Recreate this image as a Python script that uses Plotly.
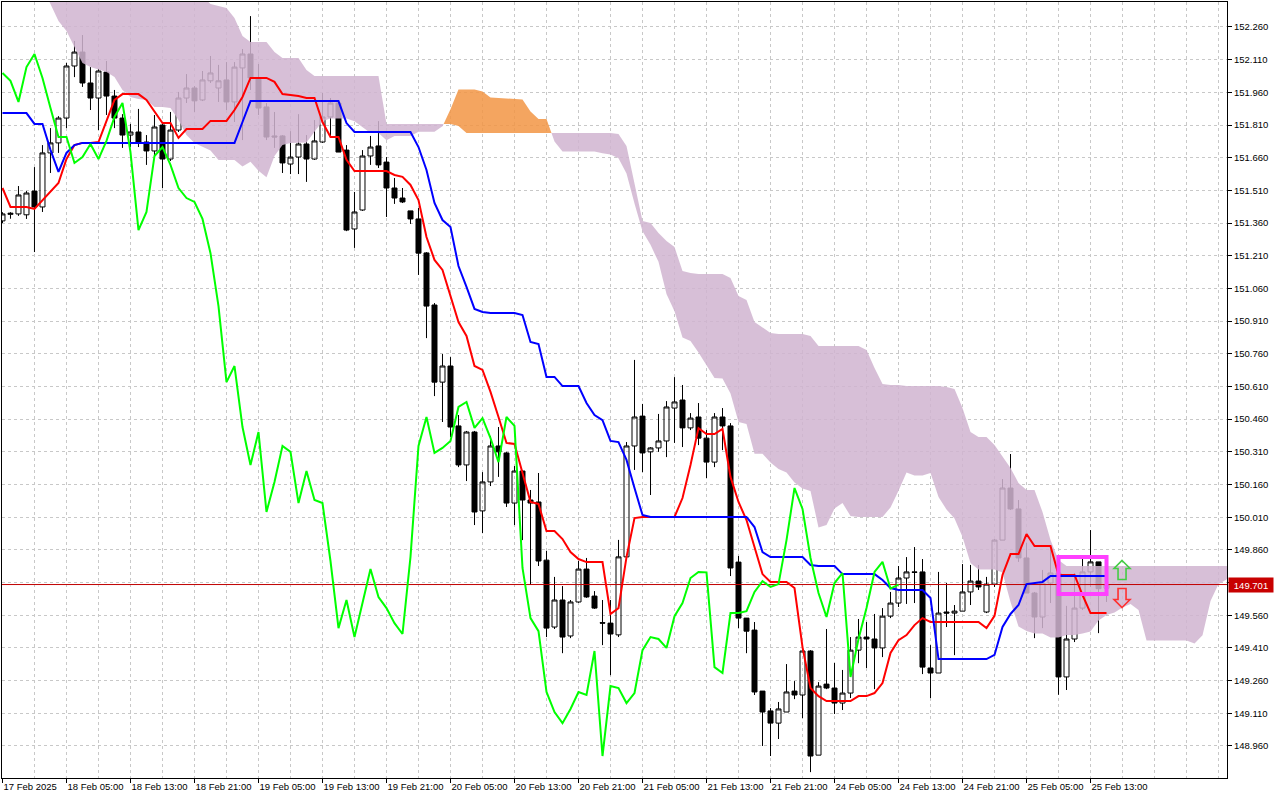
import plotly.graph_objects as go

# ---------------- data (hourly bars, index 0 = 17 Feb 21:00) ----------------
open_ = [151.370, 151.400, 151.402, 151.398, 151.507, 151.434, 151.682, 151.728, 151.842, 152.081,
         152.145, 152.003, 151.934, 152.053, 151.943, 151.842, 151.764, 151.778, 151.732, 151.691,
         151.810, 151.654, 151.787, 151.934, 151.980, 151.925, 152.013, 151.980, 152.017, 151.916,
         152.072, 152.136, 152.021, 151.893, 151.760, 151.760, 151.631, 151.663, 151.723, 151.654,
         151.732, 151.847, 151.911, 151.695, 151.333, 151.420, 151.668, 151.714, 151.640, 151.521,
         151.475, 151.416, 151.379, 151.223, 150.984, 150.630, 150.704, 150.429, 150.250, 150.401,
         150.039, 150.172, 150.337, 150.305, 150.075, 150.222, 150.089, 150.080, 149.813, 149.506,
         149.630, 149.465, 149.621, 149.772, 149.648, 149.526, 149.524, 149.470, 149.828, 150.337,
         150.474, 150.310, 150.328, 150.360, 150.511, 150.548, 150.420, 150.470, 150.373, 150.263,
         150.470, 150.429, 149.804, 149.547, 149.492, 149.212, 149.121, 149.065, 149.116, 149.212,
         149.194, 149.396, 148.918, 149.244, 149.226, 149.157, 149.203, 149.400, 149.460, 149.451,
         149.410, 149.556, 149.616, 149.731, 149.759, 149.759, 149.318, 149.295, 149.575, 149.570,
         149.579, 149.667, 149.717, 149.575, 149.703, 149.905, 150.144, 150.048, 149.823, 149.662,
         149.552, 149.708, 149.754, 149.277, 149.451, 149.593, 149.759, 149.805, 149.684]

high = [151.410, 151.410, 151.530, 151.507, 151.617, 151.718, 151.796, 151.851, 152.095, 152.196,
        152.223, 152.076, 152.067, 152.104, 151.971, 151.860, 151.815, 151.884, 151.764, 151.856,
        151.819, 151.870, 151.962, 152.044, 151.989, 152.058, 152.127, 152.086, 152.099, 152.099,
        152.159, 152.310, 152.090, 151.911, 151.870, 151.764, 151.782, 151.860, 151.764, 151.833,
        151.957, 151.934, 151.925, 151.718, 151.503, 151.695, 151.760, 151.828, 151.663, 151.567,
        151.521, 151.416, 151.429, 151.227, 150.993, 150.759, 150.745, 150.479, 150.406, 150.406,
        150.217, 150.383, 150.424, 150.310, 150.245, 150.227, 150.135, 150.213, 149.855, 149.736,
        149.694, 149.630, 149.809, 149.823, 149.671, 149.630, 149.630, 149.906, 150.355, 150.732,
        150.530, 150.332, 150.484, 150.543, 150.653, 150.617, 150.488, 150.534, 150.410, 150.488,
        150.511, 150.442, 149.832, 149.547, 149.529, 149.212, 149.134, 149.162, 149.336, 149.258,
        149.400, 149.400, 149.253, 149.497, 149.341, 149.309, 149.460, 149.543, 149.529, 149.566,
        149.593, 149.667, 149.786, 149.827, 149.873, 149.818, 149.423, 149.759, 149.708, 149.607,
        149.795, 149.791, 149.791, 149.736, 149.910, 150.185, 150.300, 150.089, 149.892, 149.667,
        149.768, 149.873, 149.760, 149.603, 149.754, 149.823, 149.951, 149.805, 149.712]

low = [151.360, 151.380, 151.393, 151.379, 151.227, 151.411, 151.590, 151.682, 151.796, 152.030,
       151.985, 151.879, 151.787, 151.856, 151.796, 151.705, 151.709, 151.709, 151.627, 151.672,
       151.521, 151.645, 151.778, 151.911, 151.870, 151.920, 152.003, 151.916, 151.879, 151.824,
       151.741, 151.971, 151.856, 151.741, 151.705, 151.590, 151.585, 151.585, 151.549, 151.650,
       151.728, 151.755, 151.686, 151.323, 151.246, 151.416, 151.627, 151.613, 151.388, 151.448,
       151.452, 151.356, 151.122, 150.832, 150.566, 150.447, 150.378, 150.240, 150.176, 149.974,
       149.937, 150.153, 150.195, 150.057, 149.974, 149.905, 149.699, 149.786, 149.460, 149.497,
       149.386, 149.455, 149.617, 149.640, 149.589, 149.423, 149.285, 149.460, 149.823, 150.227,
       150.217, 150.112, 150.310, 150.286, 150.351, 150.332, 150.410, 150.341, 150.190, 150.240,
       150.318, 149.740, 149.501, 149.386, 149.194, 148.960, 148.914, 148.992, 149.116, 149.175,
       149.088, 148.840, 148.918, 149.221, 149.107, 149.125, 149.180, 149.340, 149.318, 149.221,
       149.368, 149.547, 149.598, 149.612, 149.616, 149.290, 149.180, 149.295, 149.506, 149.377,
       149.579, 149.607, 149.676, 149.570, 149.690, 149.905, 150.043, 149.805, 149.662, 149.455,
       149.501, 149.616, 149.195, 149.217, 149.437, 149.584, 149.690, 149.478, 149.621]

close = [151.402, 151.405, 151.489, 151.498, 151.434, 151.682, 151.728, 151.842, 152.081, 152.145,
         152.003, 151.934, 152.058, 151.943, 151.842, 151.764, 151.778, 151.732, 151.691, 151.801,
         151.654, 151.787, 151.934, 151.980, 151.921, 152.017, 152.049, 152.013, 151.916, 152.076,
         152.136, 152.026, 151.888, 151.755, 151.755, 151.636, 151.663, 151.723, 151.654, 151.737,
         151.847, 151.911, 151.686, 151.328, 151.411, 151.668, 151.709, 151.627, 151.521, 151.475,
         151.457, 151.379, 151.222, 150.979, 150.630, 150.704, 150.424, 150.250, 150.401, 150.034,
         150.172, 150.337, 150.310, 150.075, 150.222, 150.089, 150.075, 149.809, 149.501, 149.630,
         149.460, 149.621, 149.772, 149.644, 149.593, 149.524, 149.474, 149.828, 150.337, 150.470,
         150.305, 150.328, 150.360, 150.516, 150.539, 150.420, 150.465, 150.373, 150.263, 150.470,
         150.429, 149.777, 149.547, 149.487, 149.208, 149.116, 149.065, 149.130, 149.208, 149.194,
         149.396, 148.914, 149.235, 149.226, 149.157, 149.203, 149.400, 149.460, 149.451, 149.410,
         149.556, 149.616, 149.731, 149.759, 149.757, 149.322, 149.295, 149.570, 149.570, 149.579,
         149.667, 149.717, 149.690, 149.703, 149.905, 150.144, 150.048, 149.823, 149.662, 149.552,
         149.708, 149.754, 149.277, 149.451, 149.593, 149.759, 149.805, 149.682, 149.701]

tenkan = [151.521, 151.434, 151.434, 151.434, 151.425, 151.466, 151.503, 151.544, 151.654, 151.718,
          151.728, 151.728, 151.732, 151.829, 151.925, 151.952, 151.952, 151.952, 151.925, 151.870,
          151.819, 151.819, 151.751, 151.792, 151.792, 151.792, 151.829, 151.829, 151.829, 151.879,
          151.939, 152.026, 152.026, 152.026, 152.008, 151.952, 151.948, 151.943, 151.934, 151.934,
          151.824, 151.755, 151.755, 151.650, 151.599, 151.599, 151.599, 151.599, 151.599, 151.581,
          151.572, 151.535, 151.466, 151.296, 151.191, 151.145, 151.021, 150.906, 150.842, 150.704,
          150.686, 150.585, 150.470, 150.351, 150.346, 150.217, 150.080, 150.071, 149.947, 149.947,
          149.910, 149.850, 149.818, 149.804, 149.804, 149.804, 149.566, 149.593, 149.827, 150.006,
          150.011, 150.011, 150.011, 150.011, 150.011, 150.098, 150.250, 150.419, 150.392, 150.392,
          150.415, 150.195, 150.080, 149.997, 149.873, 149.749, 149.713, 149.713, 149.713, 149.685,
          149.414, 149.226, 149.189, 149.166, 149.166, 149.166, 149.166, 149.189, 149.189, 149.203,
          149.249, 149.387, 149.446, 149.469, 149.515, 149.547, 149.529, 149.529, 149.529, 149.529,
          149.529, 149.529, 149.529, 149.501, 149.557, 149.745, 149.841, 149.841, 149.933, 149.878,
          149.878, 149.878, 149.745, 149.745, 149.745, 149.653, 149.570, 149.570, 149.570]

kijun = [151.865, 151.865, 151.865, 151.865, 151.815, 151.815, 151.696, 151.595, 151.682, 151.718,
         151.728, 151.728, 151.728, 151.728, 151.728, 151.728, 151.728, 151.728, 151.728, 151.728,
         151.728, 151.728, 151.728, 151.728, 151.728, 151.728, 151.728, 151.728, 151.728, 151.728,
         151.824, 151.920, 151.920, 151.920, 151.920, 151.920, 151.920, 151.920, 151.920, 151.920,
         151.920, 151.920, 151.920, 151.819, 151.778, 151.778, 151.778, 151.778, 151.778, 151.778,
         151.778, 151.778, 151.709, 151.604, 151.452, 151.374, 151.342, 151.163, 151.067, 150.966,
         150.952, 150.947, 150.947, 150.947, 150.947, 150.938, 150.814, 150.805, 150.654, 150.654,
         150.612, 150.612, 150.612, 150.534, 150.479, 150.456, 150.360, 150.355, 150.273, 150.144,
         150.020, 150.011, 150.011, 150.011, 150.011, 150.011, 150.011, 150.011, 150.011, 150.011,
         150.011, 150.011, 150.011, 150.011, 149.965, 149.850, 149.827, 149.827, 149.827, 149.827,
         149.827, 149.791, 149.786, 149.786, 149.786, 149.749, 149.749, 149.749, 149.749, 149.749,
         149.722, 149.685, 149.676, 149.676, 149.676, 149.676, 149.639, 149.359, 149.359, 149.359,
         149.359, 149.359, 149.359, 149.359, 149.378, 149.506, 149.566, 149.607, 149.703, 149.708,
         149.713, 149.740, 149.740, 149.740, 149.740, 149.740, 149.740, 149.740, 149.740]

# Senkou span A / B as drawn (already shifted 26 bars forward), index 0..154
span_a = [152.440, 152.440, 152.440, 152.440, 152.440, 152.440, 152.366, 152.288, 152.242, 152.168,
          152.095, 152.076, 152.063, 152.053, 152.031, 151.971, 151.939, 151.930, 151.925, 151.893,
          151.893, 151.888, 151.833, 151.764, 151.728, 151.709, 151.693, 151.650, 151.650, 151.650,
          151.620, 151.641, 151.600, 151.570, 151.668, 151.718, 151.728, 151.728, 151.730, 151.779,
          151.827, 151.840, 151.840, 151.840, 151.827, 151.799, 151.774, 151.774, 151.740, 151.760,
          151.760, 151.760, 151.779, 151.779, 151.779, 151.804, 151.882, 151.973, 151.973, 151.973,
          151.964, 151.936, 151.934, 151.932, 151.927, 151.927, 151.872, 151.838, 151.838, 151.735,
          151.689, 151.689, 151.689, 151.689, 151.689, 151.680, 151.675, 151.657, 151.588, 151.450,
          151.322, 151.260, 151.182, 151.035, 150.955, 150.835, 150.819, 150.766, 150.709, 150.649,
          150.647, 150.578, 150.447, 150.438, 150.301, 150.301, 150.261, 150.231, 150.215, 150.169,
          150.142, 150.130, 149.963, 149.974, 150.050, 150.075, 150.016, 150.011, 150.011, 150.011,
          150.011, 150.055, 150.131, 150.215, 150.202, 150.202, 150.213, 150.103, 150.046, 150.004,
          149.919, 149.800, 149.770, 149.770, 149.770, 149.756, 149.621, 149.509, 149.488, 149.476,
          149.476, 149.458, 149.458, 149.469, 149.469, 149.476, 149.486, 149.536, 149.561, 149.573,
          149.596, 149.612, 149.584, 149.444, 149.444, 149.444, 149.444, 149.444, 149.444, 149.430,
          149.468, 149.626, 149.704, 149.724, 149.818]

span_b = [152.460, 152.460, 152.460, 152.460, 152.460, 152.460, 152.460, 152.460, 152.460, 152.460,
          152.460, 152.460, 152.460, 152.460, 152.460, 152.460, 152.460, 152.460, 152.460, 152.460,
          152.460, 152.460, 152.460, 152.460, 152.460, 152.400, 152.366, 152.356, 152.347, 152.301,
          152.219, 152.191, 152.191, 152.191, 152.145, 152.118, 152.118, 152.118, 152.063, 152.035,
          152.035, 152.035, 152.035, 152.035, 152.035, 152.035, 152.035, 152.035, 151.815, 151.815,
          151.815, 151.815, 151.815, 151.815, 151.815, 151.815, 151.815, 151.806, 151.774, 151.774,
          151.774, 151.774, 151.774, 151.774, 151.774, 151.774, 151.774, 151.774, 151.774, 151.774,
          151.774, 151.774, 151.774, 151.774, 151.774, 151.774, 151.774, 151.769, 151.714, 151.535,
          151.370, 151.360, 151.315, 151.278, 151.250, 151.140, 151.131, 151.126, 151.126, 151.126,
          151.126, 151.108, 151.025, 151.007, 150.906, 150.883, 150.856, 150.851, 150.851, 150.851,
          150.851, 150.842, 150.796, 150.796, 150.796, 150.796, 150.796, 150.796, 150.778, 150.695,
          150.622, 150.617, 150.617, 150.612, 150.612, 150.612, 150.612, 150.612, 150.608, 150.599,
          150.511, 150.401, 150.378, 150.378, 150.341, 150.286, 150.236, 150.167, 150.135, 150.135,
          150.034, 149.906, 149.814, 149.786, 149.786, 149.786, 149.786, 149.786, 149.786, 149.786,
          149.786, 149.786, 149.786, 149.786, 149.786, 149.786, 149.786, 149.786, 149.786, 149.786,
          149.786, 149.786, 149.786, 149.786, 149.786]

tick_bars = [0, 8, 16, 24, 32, 40, 48, 56, 64, 72, 80, 88, 96, 104, 112, 120, 128, 136]
tick_labels = ["17 Feb 2025", "18 Feb 05:00", "18 Feb 13:00", "18 Feb 21:00", "19 Feb 05:00",
               "19 Feb 13:00", "19 Feb 21:00", "20 Feb 05:00", "20 Feb 13:00", "20 Feb 21:00",
               "21 Feb 05:00", "21 Feb 13:00", "21 Feb 21:00", "24 Feb 05:00", "24 Feb 13:00",
               "24 Feb 21:00", "25 Feb 05:00", "25 Feb 13:00"]
price_ticks = [148.960, 149.110, 149.260, 149.410, 149.560, 149.710, 149.860, 150.010, 150.160,
               150.310, 150.460, 150.610, 150.760, 150.910, 151.060, 151.210, 151.360, 151.510,
               151.660, 151.810, 151.960, 152.110, 152.260]
last_price = 149.701
box_bars = [132, 138]
box_prices = [149.658, 149.827]
signal_bar = 139.94
signal_up_price = 149.768
signal_down_price = 149.639

# ---------------- styling ----------------
FONT = "Liberation Sans, Arial, sans-serif"
GRID = "#c8c8c8"
DASH = "3px,3px"
KUMO_DOWN = "rgba(209,180,209,0.86)"
KUMO_UP = "rgba(242,150,70,0.86)"
X_RANGE = [-0.06, 153.06]
Y_RANGE = [148.8131, 152.3747]
# hollow block-arrow outlines, in pixels around the anchor point (y up)
UP_ARROW = "M 0 9.5 L 8 1.5 L 4 1.5 L 4 -9.5 L -4 -9.5 L -4 1.5 L -8 1.5 Z"
DOWN_ARROW = "M 0 -9.5 L 8 -1.5 L 4 -1.5 L 4 9.5 L -4 9.5 L -4 -1.5 L -8 -1.5 Z"

bars = list(range(len(close)))
cloud_x = list(range(len(span_a)))
chikou_x = bars[:len(close) - 26]
chikou_y = close[26:]
# the price-axis label hidden behind the current-price tag
price_text = ["" if abs(p - last_price) < 0.03 else f"{p:.3f}" for p in price_ticks]

fig = go.Figure()


# split the kumo into bullish / bearish polygons at the crossings of span A and B
def kumo_segments(xs, a, b):
    segs = []
    sign = a[0] > b[0]
    sx, sa, sb = [xs[0]], [a[0]], [b[0]]
    for i in range(1, len(xs)):
        s = a[i] > b[i]
        if s != sign:
            d0 = a[i - 1] - b[i - 1]
            d1 = a[i] - b[i]
            t = d0 / (d0 - d1)
            xc = xs[i - 1] + t * (xs[i] - xs[i - 1])
            yc = a[i - 1] + t * (a[i] - a[i - 1])
            sx.append(xc); sa.append(yc); sb.append(yc)
            segs.append((sign, sx, sa, sb))
            sx, sa, sb = [xc], [yc], [yc]
            sign = s
        sx.append(xs[i]); sa.append(a[i]); sb.append(b[i])
    segs.append((sign, sx, sa, sb))
    return segs


for up, sx, sa, sb in kumo_segments(cloud_x, span_a, span_b):
    fig.add_trace(go.Scatter(
        x=sx + sx[::-1], y=sa + sb[::-1], mode="lines", fill="toself",
        fillcolor=KUMO_UP if up else KUMO_DOWN, line=dict(width=0),
        hoverinfo="skip", showlegend=False))

# current price line
fig.add_trace(go.Scatter(x=[X_RANGE[0] - 1, X_RANGE[1] + 1], y=[last_price, last_price],
                         mode="lines", line=dict(color="#c00000", width=1),
                         hoverinfo="skip", showlegend=False))

fig.add_trace(go.Candlestick(
    x=bars, open=open_, high=high, low=low, close=close,
    increasing=dict(line=dict(color="#000000", width=1), fillcolor="rgba(255,255,255,0)"),
    decreasing=dict(line=dict(color="#000000", width=1), fillcolor="#000000"),
    whiskerwidth=0, showlegend=False))

fig.add_trace(go.Scatter(x=bars, y=tenkan, mode="lines", line=dict(color="#ff0000", width=2),
                         showlegend=False, name="Tenkan-sen"))
fig.add_trace(go.Scatter(x=bars, y=kijun, mode="lines", line=dict(color="#0000ff", width=2),
                         showlegend=False, name="Kijun-sen"))
fig.add_trace(go.Scatter(x=chikou_x, y=chikou_y, mode="lines", line=dict(color="#00ff00", width=2),
                         showlegend=False, name="Chikou Span"))

fig.add_shape(type="rect", xref="x", yref="y", x0=box_bars[0], x1=box_bars[1],
              y0=box_prices[0], y1=box_prices[1], line=dict(color="#ff40ff", width=4),
              layer="above")

fig.add_shape(type="path", xref="x", yref="y", xsizemode="pixel", ysizemode="pixel",
              xanchor=signal_bar, yanchor=signal_up_price, path=UP_ARROW,
              line=dict(color="#44cc44", width=1.6), fillcolor="rgba(0,0,0,0)", layer="above")
fig.add_shape(type="path", xref="x", yref="y", xsizemode="pixel", ysizemode="pixel",
              xanchor=signal_bar, yanchor=signal_down_price, path=DOWN_ARROW,
              line=dict(color="#ff3030", width=1.6), fillcolor="rgba(0,0,0,0)", layer="above")

fig.add_annotation(x=1.0, xref="paper", y=last_price, yref="y", xanchor="left", yanchor="middle",
                   text=f"{last_price:.3f}", showarrow=False, xshift=1,
                   bgcolor="#c80000", font=dict(family=FONT, size=9.5, color="#ffffff"),
                   width=42, height=12, borderpad=1)

fig.update_layout(
    template="none",
    width=1280, height=800,
    margin=dict(l=2, r=53, t=2, b=22, autoexpand=False),
    paper_bgcolor="#ffffff", plot_bgcolor="#ffffff",
    showlegend=False,
    boxgap=0.375, boxgroupgap=0,
    font=dict(family=FONT, size=9.5, color="#000000"),
    xaxis=dict(
        range=X_RANGE, autorange=False, automargin=False,
        tickmode="array", tickvals=tick_bars, ticktext=tick_labels, tickangle=0,
        ticks="outside", ticklen=4, tickcolor="#000000", tickwidth=1,
        ticklabelposition="outside right",
        tickfont=dict(family=FONT, size=9.5, color="#000000"),
        showgrid=True, gridcolor=GRID, griddash=DASH, gridwidth=1,
        minor=dict(tickvals=list(range(0, 156, 4)), showgrid=True, gridcolor=GRID,
                   griddash=DASH, gridwidth=1, ticks=""),
        showline=True, linecolor="#000000", linewidth=1, mirror=True,
        zeroline=False, rangeslider=dict(visible=False), fixedrange=True),
    yaxis=dict(
        side="right", range=Y_RANGE, autorange=False, automargin=False,
        tickmode="array", tickvals=price_ticks, ticktext=price_text,
        ticks="outside", ticklen=4, tickcolor="#000000", tickwidth=1,
        tickfont=dict(family=FONT, size=9.5, color="#000000"),
        showgrid=True, gridcolor=GRID, griddash=DASH, gridwidth=1,
        showline=True, linecolor="#000000", linewidth=1, mirror=True,
        zeroline=False, fixedrange=True),
)

fig.write_html("out.html", config={"displayModeBar": False},
               post_script="document.body.style.margin='0px';document.body.style.overflow='hidden';")
